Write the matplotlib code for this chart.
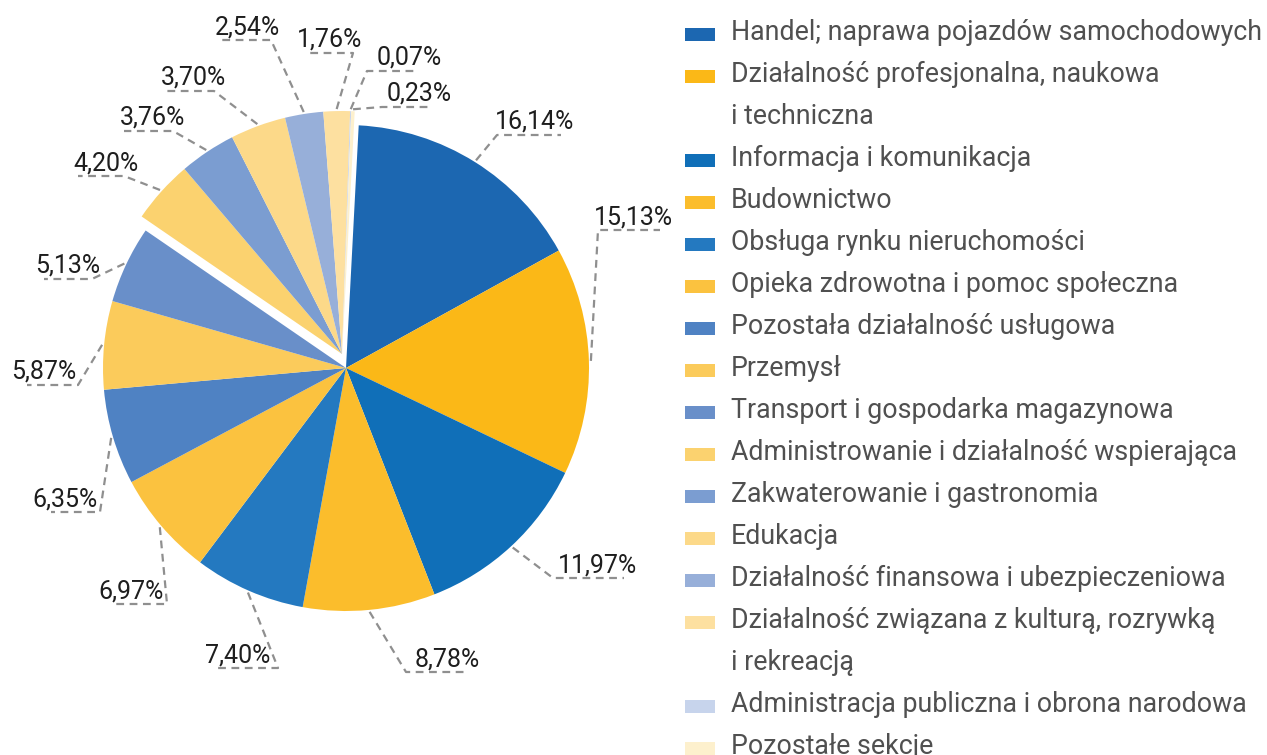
import numpy as np
import matplotlib
matplotlib.use("Agg")
import matplotlib.pyplot as plt
from matplotlib.patches import Rectangle

W, H = 1267, 755

sectors = [
    "Handel; naprawa pojazdów samochodowych",
    "Działalność profesjonalna, naukowa\ni techniczna",
    "Informacja i komunikacja",
    "Budownictwo",
    "Obsługa rynku nieruchomości",
    "Opieka zdrowotna i pomoc społeczna",
    "Pozostała działalność usługowa",
    "Przemysł",
    "Transport i gospodarka magazynowa",
    "Administrowanie i działalność wspierająca",
    "Zakwaterowanie i gastronomia",
    "Edukacja",
    "Działalność finansowa i ubezpieczeniowa",
    "Działalność związana z kulturą, rozrywką\ni rekreacją",
    "Administracja publiczna i obrona narodowa",
    "Pozostałe sekcje",
]
shares = [16.14, 15.13, 11.97, 8.78, 7.40, 6.97, 6.35, 5.87,
          5.13, 4.20, 3.76, 3.70, 2.54, 1.76, 0.07, 0.23]
colors = ["#1c67b1", "#fbb817", "#106fb8", "#fbbd2c", "#2479c0", "#fbc23f",
          "#4f82c3", "#fbcb5b", "#698fc9", "#fbd26f", "#7b9dd1", "#fcd989",
          "#97afd9", "#fde0a0", "#c7d4ec", "#fdf0cd"]

# label layout in pixels (y measured from the top): elbow of leader, end of
# the horizontal dash under the label, and the label centre
elbow = [(497, 135), (598, 230), (553, 578), (406, 672), (278, 668),
         (167, 604), (100, 512), (78, 385), (92, 279), (124, 176),
         (173, 131), (214, 91), (271, 40), (353, 53), (367, 71), (382, 107)]
hline_end = [561, 660, 624, 465, 218, 116, 51, 27, 44, 78, 124, 165, 222,
             305, 416, 431]
text_x = [535, 633, 598, 447, 238, 131, 65, 44, 68, 106, 153, 194, 248,
          330, 409, 419]

plt.rcParams['font.family'] = ['Roboto', 'DejaVu Sans']

fig = plt.figure(figsize=(W / 100, H / 100), dpi=100)
ax = fig.add_axes([0, 0, 1, 1])

cx, cy, R = 346, H - 368, 243
wedges, _ = ax.pie(shares, colors=colors, startangle=87, counterclock=False,
                   center=(cx, cy), radius=R, frame=True,
                   wedgeprops=dict(linewidth=0))
ax.set_xlim(0, W)
ax.set_ylim(0, H)
ax.set_aspect('equal')
ax.axis('off')

# the group of smaller sections is pulled out of the pie
for w in wedges[9:]:
    w.set_center((cx - 4, cy + 14))

line_kw = dict(color="#8f8f8f", lw=1.6, ls=(0, (3.5, 2.5)))
for i, w in enumerate(wedges):
    mid = np.deg2rad((w.theta1 + w.theta2) / 2)
    wx, wy = w.center
    px = wx + (R + 2) * np.cos(mid)
    py = wy + (R + 2) * np.sin(mid)
    ex, ey = elbow[i][0], H - elbow[i][1]
    ax.plot([px, ex, hline_end[i]], [py, ey, ey], **line_kw)
    lbl = f"{shares[i]:.2f}".replace(".", ",") + "%"
    ax.text(text_x[i], ey + 6, lbl, ha='center', va='baseline',
            fontsize=18, color="#1e1e1e")

# legend
line = 0
for name, col in zip(sectors, colors):
    top = 28 + 42 * line
    ax.add_patch(Rectangle((685, H - top - 13), 30, 13, color=col, lw=0))
    for part in name.split("\n"):
        ax.text(731, H - (40 + 42 * line), part, ha='left', va='baseline',
                fontsize=19.3, color="#505050")
        line += 1

fig.savefig("out.png", dpi=100)
